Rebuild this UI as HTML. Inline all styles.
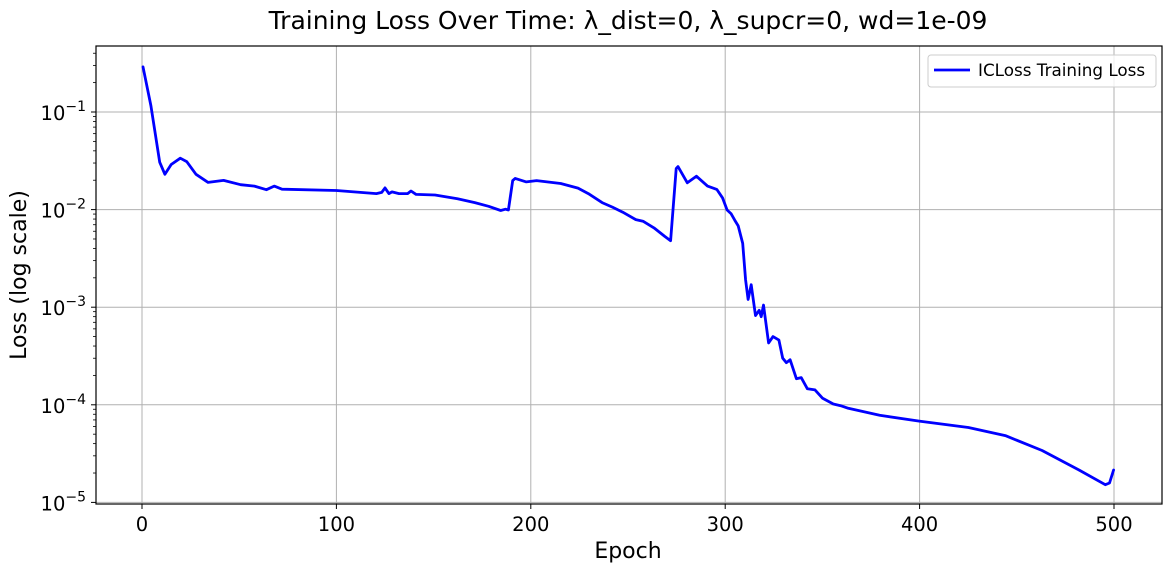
<!DOCTYPE html>
<html><head><meta charset="utf-8"><style>
html,body{margin:0;padding:0;background:#fff}
svg{display:block;font-family:"DejaVu Sans","Liberation Sans",sans-serif}
</style></head><body>
<svg id="chart" width="1172" height="572" viewBox="0 0 1172 572">
<rect width="1172" height="572" fill="#fff"/>
<text x="628" y="29" text-anchor="middle" font-size="25" fill="#000">Training Loss Over Time: λ_dist=0, λ_supcr=0, wd=1e-09</text>
<g id="grid"></g>
<g id="xticks"></g>
<g id="yticks"></g>
<g id="series"></g>
<rect x="96" y="46" width="1066" height="458" fill="none" stroke="#000" stroke-width="1.2"/>
<text x="628" y="558" text-anchor="middle" font-size="22">Epoch</text>
<text transform="translate(26,275) rotate(-90)" text-anchor="middle" font-size="22">Loss (log scale)</text>
<g>
<rect x="928" y="55" width="228" height="32" rx="3" fill="#fff" fill-opacity="0.8" stroke="#ccc"/>
<line x1="934" y1="70" x2="970" y2="70" stroke="#0000ff" stroke-width="2.8"/>
<text x="978" y="76" font-size="16.8">ICLoss Training Loss</text>
</g>
</svg>
<script>
const epochs=[0.5,4.6,9.1,11.8,15,19.7,23,27.8,34,42,50.7,57.8,64,68,72,100,120.6,123.3,125,127,128.6,132.2,136.6,138.4,141,150.7,162.3,171.2,178.3,184.5,187,188.5,190.7,192,197.7,203,215.4,224.3,229.6,236.7,242,247.3,254,257.7,263.4,269,271.9,274.8,275.7,280.5,285.2,290.9,295.7,298.6,301,303,304.9,306.7,309,310.5,311.8,313.4,315.6,317.5,318.5,319.7,322.3,324.6,327.6,329.6,331.5,333.4,336.6,339.1,342.3,346.2,350,355.6,359.4,363.3,379.4,399.8,425.1,444.1,463,482,495.5,497.7,499.8];
const losses=[0.29,0.116,0.0306,0.023,0.029,0.0336,0.031,0.023,0.019,0.0199,0.018,0.0174,0.016,0.0174,0.0162,0.0157,0.0146,0.015,0.0167,0.0146,0.0152,0.0146,0.0146,0.0155,0.0143,0.0141,0.0129,0.0118,0.0108,0.0098,0.0101,0.0099,0.0198,0.0209,0.0192,0.0198,0.0185,0.0166,0.0146,0.0118,0.0106,0.0094,0.0079,0.0076,0.0065,0.0053,0.0048,0.0263,0.0276,0.0188,0.022,0.0174,0.0161,0.0132,0.0099,0.0091,0.0078,0.0068,0.0045,0.0019,0.0012,0.0017,0.00082,0.00093,0.0008,0.00105,0.00043,0.0005,0.00046,0.0003,0.00027,0.00029,0.000185,0.00019,0.000146,0.000142,0.000117,0.000102,0.000098,0.000092,0.000078,0.000068,0.0000585,0.0000484,0.000034,0.0000215,0.0000152,0.0000158,0.0000215];
const xTicks=[0,100,200,300,400,500];
const yTickExps=[-1,-2,-3,-4,-5];
const NS="http://www.w3.org/2000/svg";
const X0=96,X1=1162,Y0=46,Y1=504;
function xs(e){return 142+(e-0)*(1114-142)/500;}
function ys(v){return 112-(Math.log10(v)+1)*97.6;}
function mk(tag,attrs,parent){const el=document.createElementNS(NS,tag);for(const k in attrs)el.setAttribute(k,attrs[k]);parent.appendChild(el);return el;}
const grid=document.getElementById('grid'),xt=document.getElementById('xticks'),yt=document.getElementById('yticks'),ser=document.getElementById('series');
xTicks.forEach(t=>{const x=xs(t);
 const g=mk('line',{x1:x,y1:Y0,x2:x,y2:Y1,stroke:'#b0b0b0','stroke-width':1},grid);
 
 
 const tk=mk('line',{x1:x,y1:Y1,x2:x,y2:Y1+5,stroke:'#000'},xt);
 
 
 const lb=mk('text',{x:x,y:Y1+27,'text-anchor':'middle','font-size':19.5},xt);
 lb.textContent=String(t);
 
 
});
yTickExps.forEach(p=>{const y=ys(Math.pow(10,p));
 const g=mk('line',{x1:X0,y1:y,x2:X1,y2:y,stroke:'#b0b0b0','stroke-width':1},grid);
 
 
 const tk=mk('line',{x1:X0-5,y1:y,x2:X0,y2:y,stroke:'#000'},yt);
 
 
 const lb=mk('text',{x:X0-10,y:y+8,'text-anchor':'end','font-size':19.5},yt);
 lb.innerHTML='10<tspan dy="-9" font-size="14">−'+(-p)+'</tspan>';
 
 
});
for(let p=-6;p<=0;p++){for(let m=2;m<=9;m++){const v=m*Math.pow(10,p);const y=ys(v);if(y<Y0||y>Y1)continue;
 const tk=mk('line',{x1:X0-3,y1:y,x2:X0,y2:y,stroke:'#000','stroke-width':0.8},yt);
 
 
}}
const pts=epochs.map((e,i)=>xs(e).toFixed(1)+','+ys(losses[i]).toFixed(1)).join(' ');
const line=mk('polyline',{points:pts,fill:'none',stroke:'#0000ff','stroke-width':2.8,'stroke-linejoin':'round','stroke-linecap':'round'},ser);


</script>
</body></html>
